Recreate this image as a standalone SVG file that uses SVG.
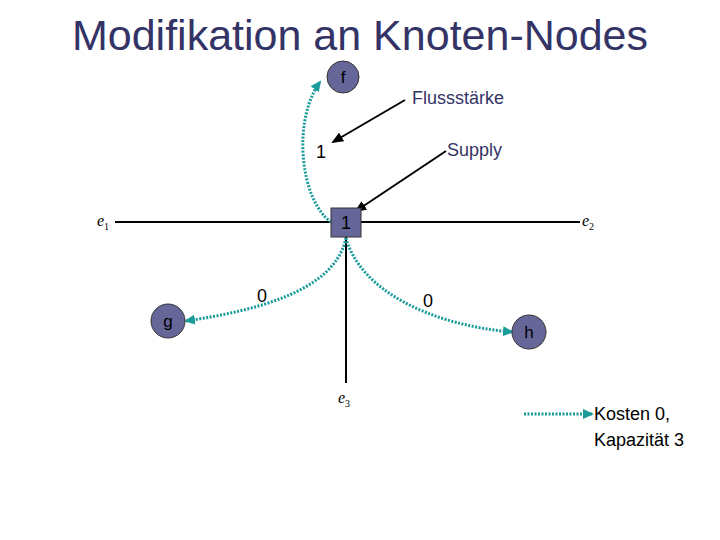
<svg xmlns="http://www.w3.org/2000/svg" width="720" height="540" viewBox="0 0 720 540">
<defs>
<style>
.t{font-family:"Liberation Sans",Arial,sans-serif}
.nav{fill:#333366}
.node{fill:#666699;stroke:#333333;stroke-width:1}
.flow{fill:none;stroke:#1a9a9a;stroke-width:3;stroke-dasharray:2,1.5}
.blk{stroke:#000;stroke-width:2;fill:none}
.e{font-family:"Liberation Serif",serif;font-style:italic;font-size:16px}
</style>
<marker id="ta" markerWidth="11" markerHeight="10" refX="9" refY="5" orient="auto" markerUnits="userSpaceOnUse"><path d="M0,0 L11,5 L0,10 z" fill="#1a9a9a"/></marker>
<marker id="ba" markerWidth="12" markerHeight="10" refX="10" refY="5" orient="auto" markerUnits="userSpaceOnUse"><path d="M0,0 L12,5 L0,10 z" fill="#000"/></marker>
</defs>
<rect width="720" height="540" fill="#fff"/>
<text class="t nav" x="360" y="50" font-size="43" text-anchor="middle">Modifikation an Knoten-Nodes</text>
<g id="edges">
<line class="blk" x1="115" y1="222" x2="580" y2="222" stroke-width="3"/>
<line class="blk" x1="346" y1="237" x2="346" y2="383" stroke-width="3"/>
</g>
<g id="connectors">
<path class="flow" d="M331,222 C300,200 292,120 320,82" marker-end="url(#ta)"/>
<path class="flow" d="M346,238 C335,290 260,310 186,321" marker-end="url(#ta)"/>
<path class="flow" d="M346,238 C360,290 430,325 512,332" marker-end="url(#ta)"/>
<line class="blk" x1="405" y1="100" x2="333" y2="142" marker-end="url(#ba)"/>
<line class="blk" x1="446" y1="151" x2="356" y2="211" marker-end="url(#ba)"/>
<path class="flow" d="M524,414 L592,414" marker-end="url(#ta)"/>
</g>
<g id="node-f"><circle class="node" cx="343" cy="77" r="16"/><text class="t" x="343" y="83" font-size="17" text-anchor="middle">f</text></g>
<g id="node-1"><rect class="node" x="331" y="208" width="30" height="29"/><text class="t" x="346" y="229" font-size="18" text-anchor="middle">1</text></g>
<g id="node-g"><circle class="node" cx="168" cy="321" r="17"/><text class="t" x="168" y="327" font-size="17" text-anchor="middle">g</text></g>
<g id="node-h"><circle class="node" cx="529" cy="332" r="17"/><text class="t" x="529" y="338" font-size="17" text-anchor="middle">h</text></g>
<g id="labels">
<text class="t nav" x="412" y="104" font-size="18">Flussstärke</text>
<text class="t nav" x="447" y="156" font-size="18">Supply</text>
<text class="t" x="316" y="158" font-size="18">1</text>
<text class="t" x="257" y="302" font-size="18">0</text>
<text class="t" x="423" y="307" font-size="18">0</text>
<text class="e" x="97" y="226">e<tspan font-size="10" dy="4" font-style="normal">1</tspan></text>
<text class="e" x="582" y="226">e<tspan font-size="10" dy="4" font-style="normal">2</tspan></text>
<text class="e" x="338" y="403">e<tspan font-size="10" dy="4" font-style="normal">3</tspan></text>
<text class="t" x="594" y="420" font-size="18">Kosten 0,</text>
<text class="t" x="594" y="446" font-size="18">Kapazität 3</text>
</g>
</svg>
